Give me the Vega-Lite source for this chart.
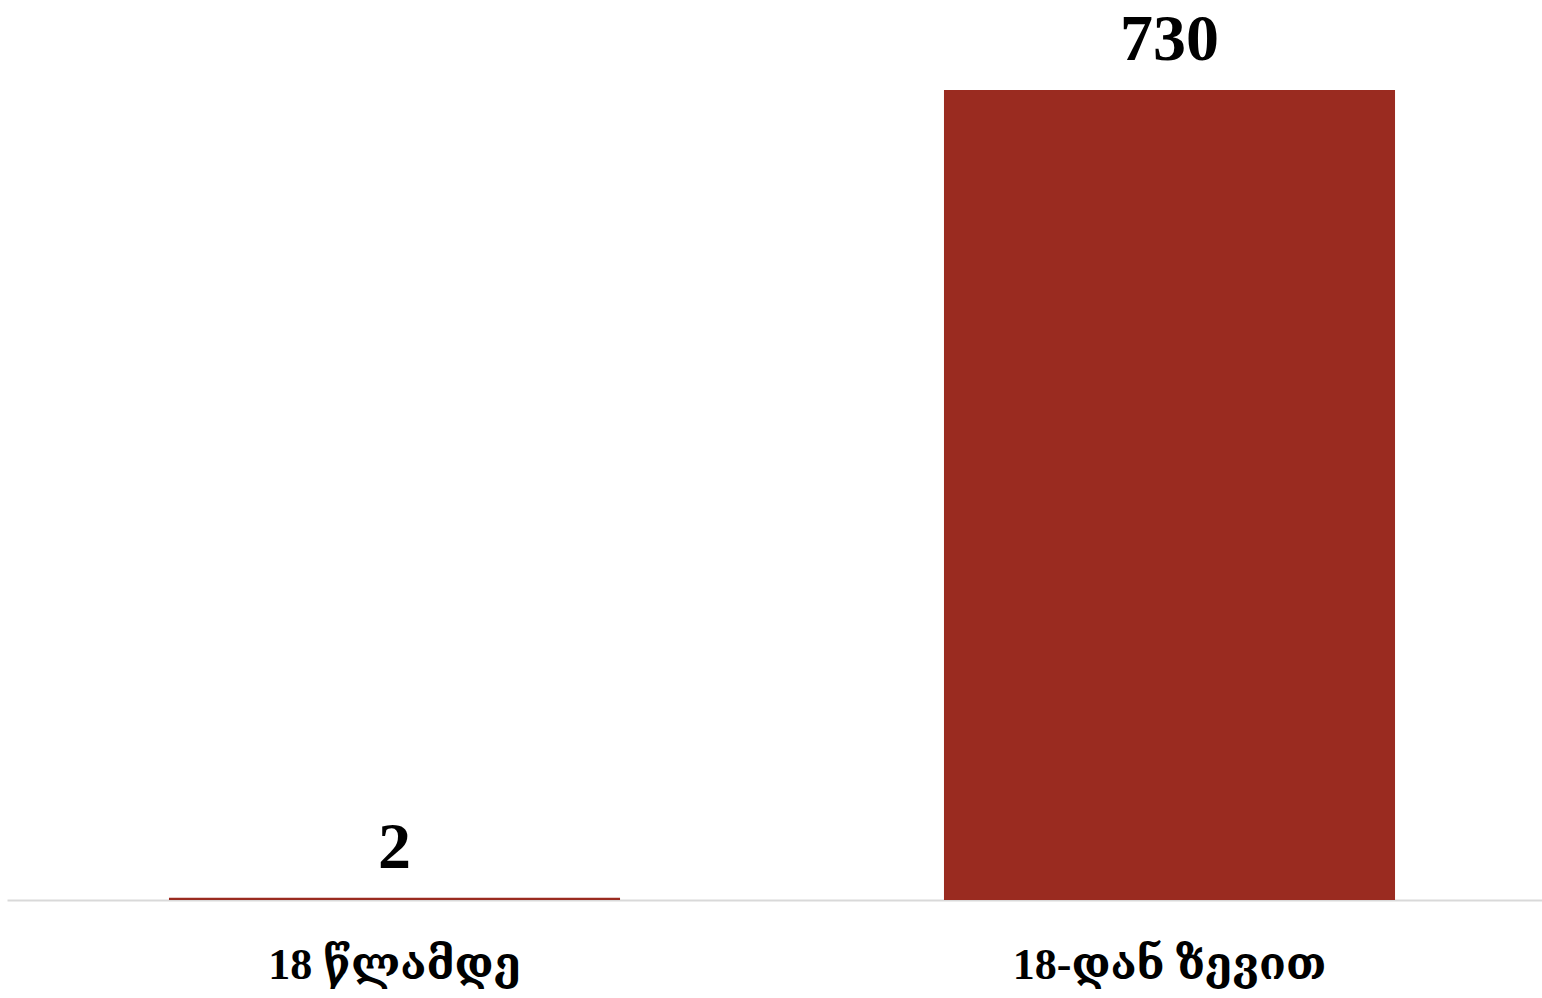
{
  "$schema": "https://vega.github.io/schema/vega-lite/v6.json",
  "autosize": "none",
  "width": 1550,
  "height": 810,
  "padding": {"left": 7, "top": 90, "right": 0, "bottom": 98},
  "background": "white",
  "config": {"view": {"stroke": null}},
  "data": {"values": [
    {"group": "18 წლამდე", "value": 2},
    {"group": "18-დან ზევით", "value": 730}
  ]},
  "encoding": {
    "x": {"field": "group", "type": "nominal", "sort": null,
      "scale": {"paddingInner": 0.418, "paddingOuter": 0.209},
      "axis": {"title": null, "labelAngle": 0, "ticks": false, "domain": true,
        "domainColor": "#d9d9d9", "domainWidth": 2, "labelLimit": 0,
        "labelFont": "Liberation Serif, DejaVu Serif", "labelFontSize": 44, "labelFontWeight": "bold",
        "labelColor": "#000000", "labelPadding": 78, "labelBaseline": "alphabetic"}},
    "y": {"field": "value", "type": "quantitative",
      "scale": {"domain": [0, 730], "nice": false, "zero": true},
      "axis": null}
  },
  "layer": [
    {"mark": {"type": "bar", "color": "#9A2B20"}},
    {"mark": {"type": "text", "baseline": "alphabetic", "dy": -30,
      "font": "Liberation Serif, DejaVu Serif", "fontSize": 66, "fontWeight": "bold", "color": "#000000"},
     "encoding": {"text": {"field": "value", "type": "quantitative"}}}
  ]
}
